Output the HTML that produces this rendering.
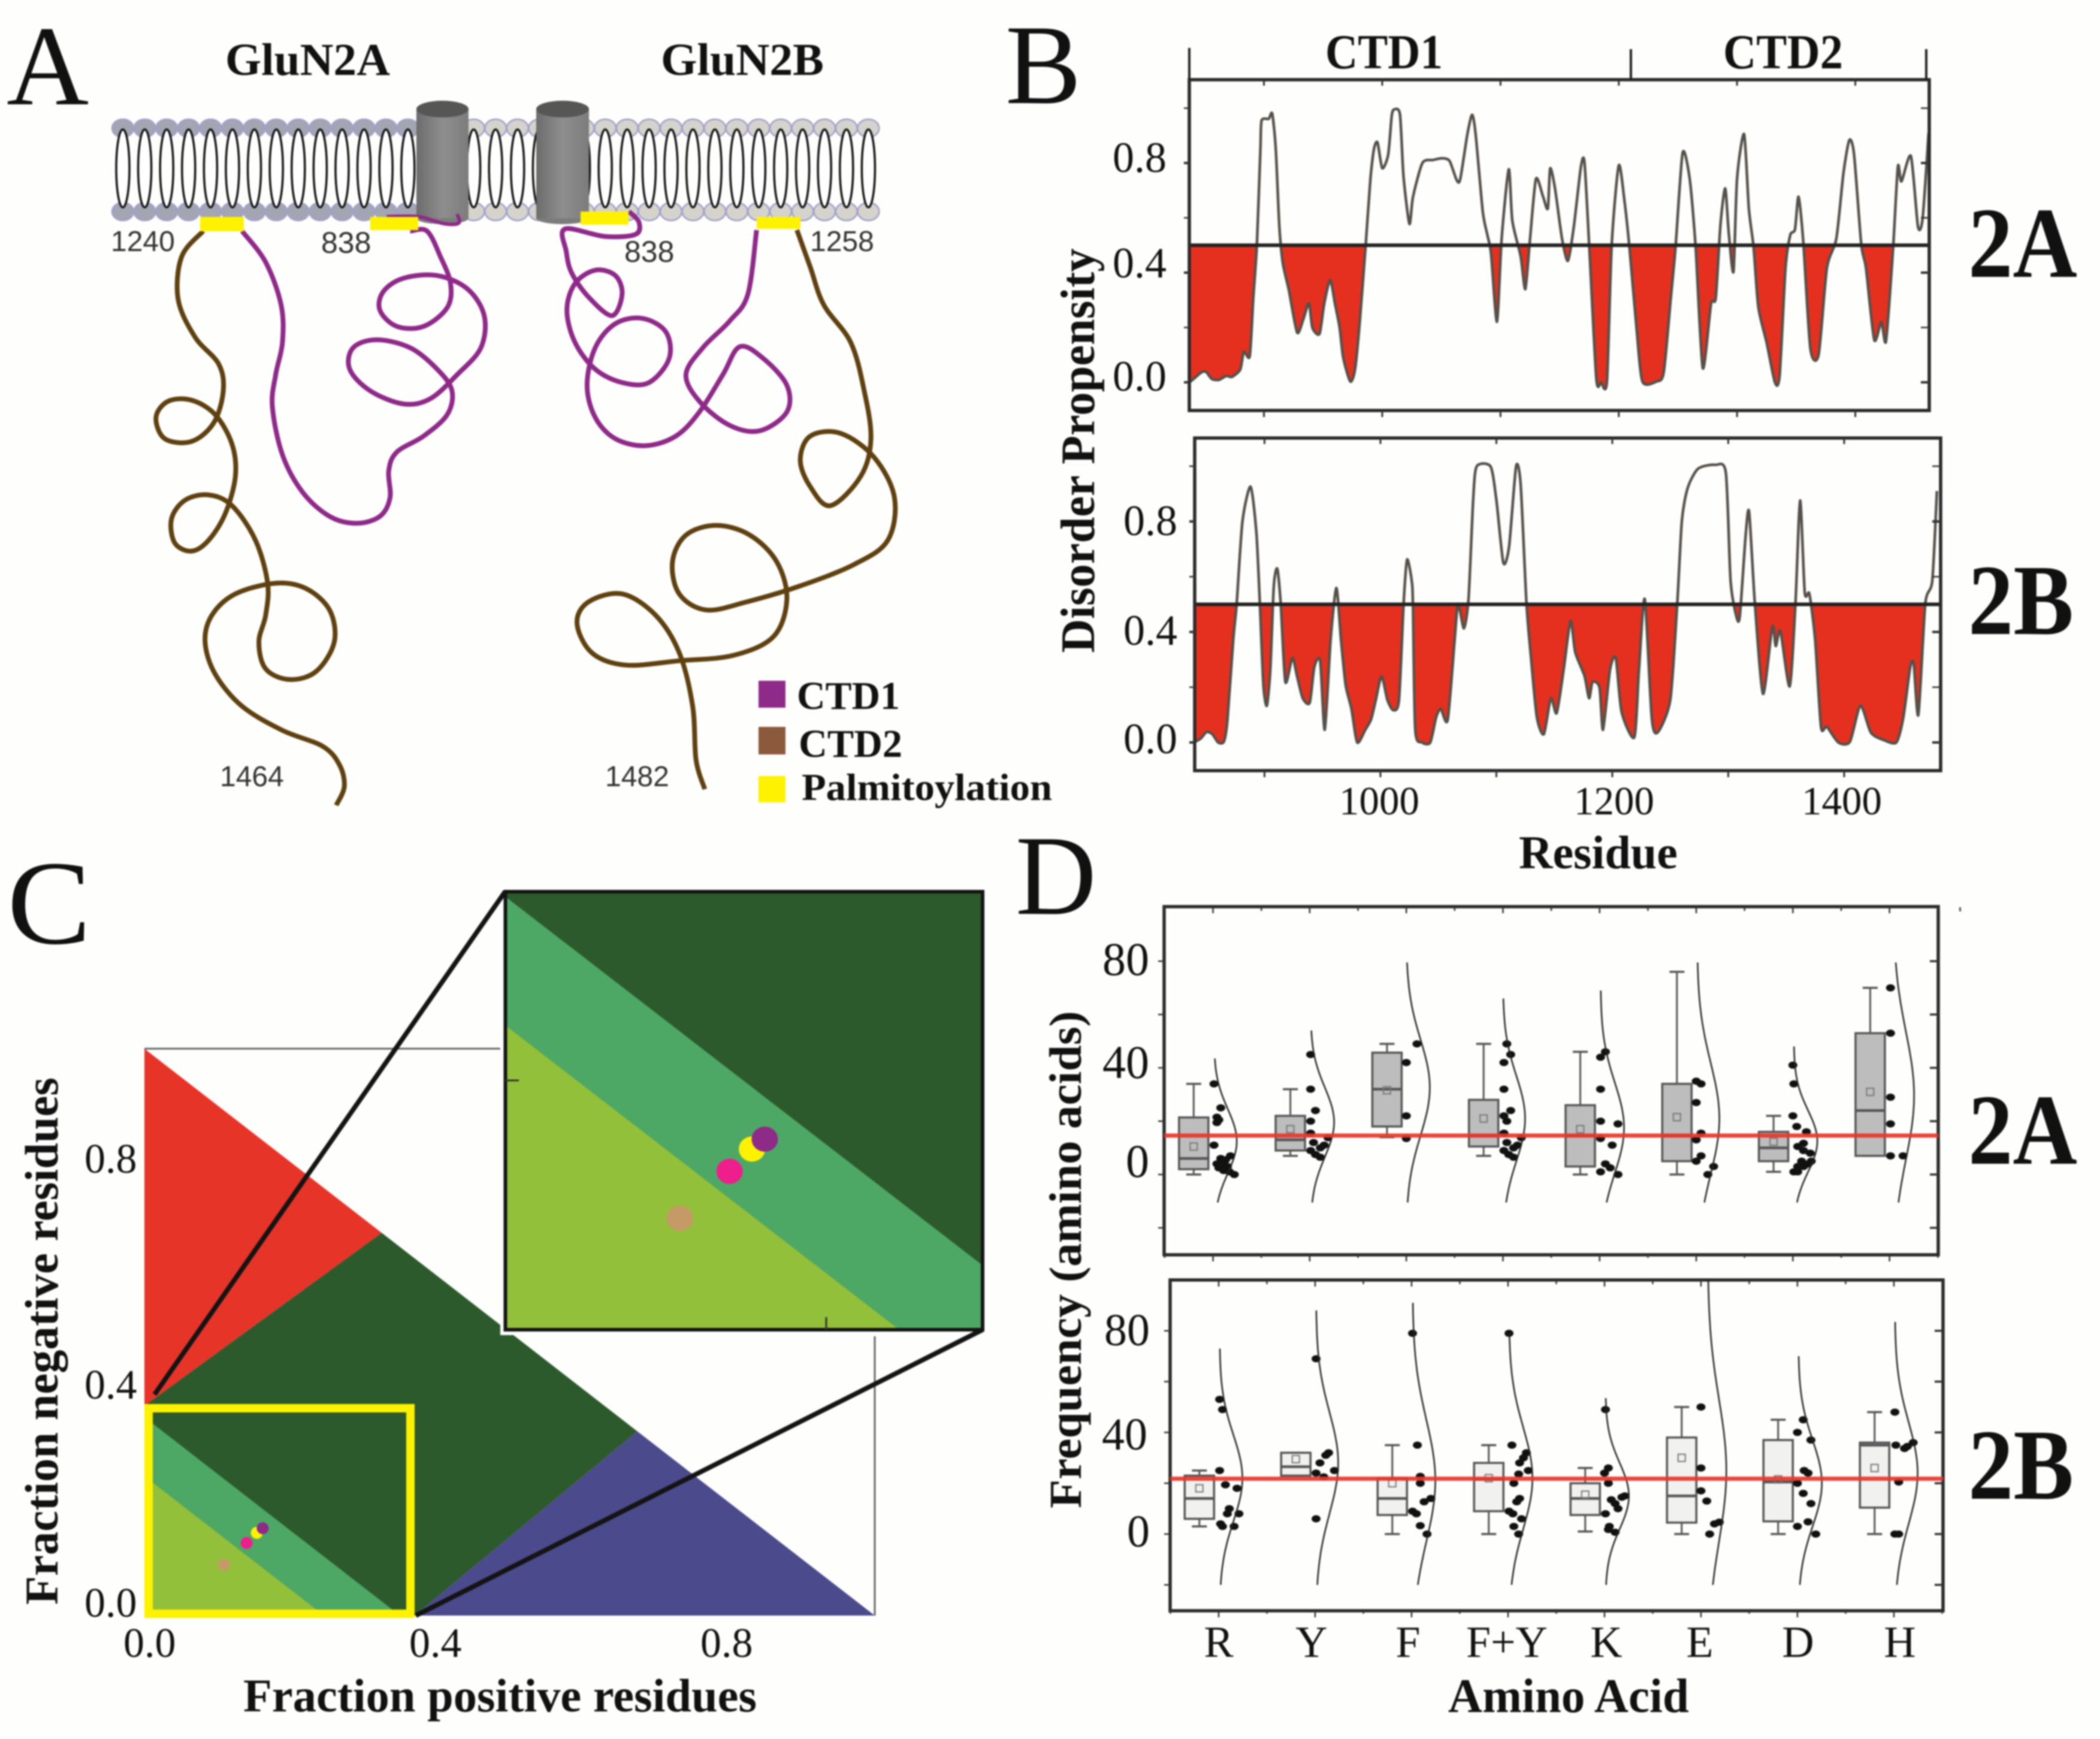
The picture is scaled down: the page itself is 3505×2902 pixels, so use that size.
<!DOCTYPE html>
<html lang="en">
<head>
<meta charset="utf-8">
<title>GluN2A and GluN2B C-terminal domain disorder analysis</title>
<style>
html,body{margin:0;padding:0;background:#fefefd;}
svg{display:block;filter:blur(1.3px);}
text{font-family:"Liberation Serif",serif;fill:#111;}
.sans{font-family:"Liberation Sans",sans-serif;fill:#333;}
.b{font-weight:bold;}
</style>
</head>
<body>
<svg id="root" xmlns="http://www.w3.org/2000/svg" width="3505" height="2902" viewBox="0 0 3505 2902">
<defs>
<linearGradient id="cyl" x1="0" x2="1" y1="0" y2="0"><stop offset="0" stop-color="#6c6c6c"/><stop offset=".5" stop-color="#8e8e8e"/><stop offset="1" stop-color="#7c7c7c"/></linearGradient>
<clipPath id="clip-inset"><rect x="843" y="1488" width="797" height="731"/></clipPath>
</defs>
<rect width="3505" height="2902" fill="#fefefd"/>

<!-- Panel A -->
<g id="panel-a">
  <g id="membrane"></g>
  <g id="cylinders">
    <g>
      <ellipse cx="738.5" cy="364" rx="43.5" ry="10" fill="#7c7c7c"/>
      <rect x="695" y="182" width="87" height="182" fill="url(#cyl)"/>
      <ellipse cx="738.5" cy="182" rx="43.5" ry="14" fill="#565656"/>
    </g>
    <g>
      <ellipse cx="939" cy="364" rx="44" ry="10" fill="#7c7c7c"/>
      <rect x="895" y="182" width="88" height="182" fill="url(#cyl)"/>
      <ellipse cx="939" cy="182" rx="44" ry="14" fill="#565656"/>
    </g>
  </g>
  <g id="tails"></g>
  <rect x="334" y="362" width="73" height="24" fill="#fff200"/>
  <rect x="618" y="362" width="80" height="22" fill="#fff200"/>
  <rect x="969" y="353" width="80" height="22" fill="#fff200"/>
  <rect x="1263" y="362" width="73" height="20" fill="#fff200"/>
  <text x="11" y="174" font-size="190">A</text>
  <text class="b" x="376" y="125" font-size="76" textLength="275" lengthAdjust="spacingAndGlyphs">GluN2A</text>
  <text class="b" x="1103" y="125" font-size="76" textLength="272" lengthAdjust="spacingAndGlyphs">GluN2B</text>
  <text class="sans" x="185" y="419" font-size="48">1240</text>
  <text class="sans" x="536" y="422" font-size="50">838</text>
  <text class="sans" x="1042" y="437" font-size="50">838</text>
  <text class="sans" x="1352" y="419" font-size="48">1258</text>
  <text class="sans" x="367" y="1312" font-size="48">1464</text>
  <text class="sans" x="1010" y="1312" font-size="48">1482</text>
  <rect x="1266" y="1136" width="45" height="45" fill="#8e2a88"/>
  <rect x="1266" y="1213" width="45" height="46" fill="#8b5a3c"/>
  <rect x="1266" y="1295" width="45" height="44" fill="#fff200"/>
  <text class="b" x="1330" y="1183" font-size="66" textLength="172" lengthAdjust="spacingAndGlyphs">CTD1</text>
  <text class="b" x="1333" y="1263" font-size="66" textLength="173" lengthAdjust="spacingAndGlyphs">CTD2</text>
  <text class="b" x="1338" y="1335" font-size="64" textLength="418" lengthAdjust="spacingAndGlyphs">Palmitoylation</text>
</g>

<!-- Panel B -->
<g id="panel-b">
  <g id="plot-b-2a"></g>
  <g id="plot-b-2b"></g>
  <text x="1678" y="172" font-size="190">B</text>
  <line x1="1985" x2="1985" y1="80" y2="133" stroke="#222" stroke-width="4"/>
  <line x1="2722" x2="2722" y1="82" y2="133" stroke="#222" stroke-width="4"/>
  <line x1="3215" x2="3215" y1="82" y2="133" stroke="#222" stroke-width="4"/>
  <text class="b" x="2212" y="114" font-size="82" textLength="196" lengthAdjust="spacingAndGlyphs">CTD1</text>
  <text class="b" x="2876" y="114" font-size="82" textLength="200" lengthAdjust="spacingAndGlyphs">CTD2</text>
  <text x="1947" y="287" font-size="72" text-anchor="end">0.8</text>
  <text x="1947" y="463" font-size="72" text-anchor="end">0.4</text>
  <text x="1947" y="652" font-size="72" text-anchor="end">0.0</text>
  <text x="1965" y="893" font-size="72" text-anchor="end">0.8</text>
  <text x="1965" y="1076" font-size="72" text-anchor="end">0.4</text>
  <text x="1965" y="1257" font-size="72" text-anchor="end">0.0</text>
  <text x="2235" y="1359" font-size="67">1000</text>
  <text x="2627" y="1359" font-size="67">1200</text>
  <text x="3007" y="1359" font-size="67">1400</text>
  <text class="b" x="2535" y="1449" font-size="78" textLength="265" lengthAdjust="spacingAndGlyphs">Residue</text>
  <text class="b" transform="translate(1826,752) rotate(-90)" text-anchor="middle" font-size="80" textLength="675" lengthAdjust="spacingAndGlyphs">Disorder Propensity</text>
  <text class="b" x="3285" y="462" font-size="168" textLength="182" lengthAdjust="spacingAndGlyphs">2A</text>
  <text class="b" x="3285" y="1058" font-size="168" textLength="176" lengthAdjust="spacingAndGlyphs">2B</text>
</g>

<!-- Panel C -->
<g id="panel-c">
  <g id="plot-c"></g>
  <text x="12" y="1574" font-size="200" textLength="140" lengthAdjust="spacingAndGlyphs">C</text>
  <text x="141" y="1957" font-size="70">0.8</text>
  <text x="141" y="2334" font-size="70">0.4</text>
  <text x="141" y="2698" font-size="70">0.0</text>
  <text x="206" y="2765" font-size="70">0.0</text>
  <text x="683" y="2765" font-size="70">0.4</text>
  <text x="1169" y="2765" font-size="70">0.8</text>
  <text class="b" x="406" y="2856" font-size="78" textLength="857" lengthAdjust="spacingAndGlyphs">Fraction positive residues</text>
  <text class="b" transform="translate(96,2238) rotate(-90)" text-anchor="middle" font-size="78" textLength="880" lengthAdjust="spacingAndGlyphs">Fraction negative residues</text>
</g>

<!-- Panel D -->
<g id="panel-d">
  <g id="plot-d-2a"></g>
  <g id="plot-d-2b"></g>
  <text x="1695" y="1525" font-size="190" textLength="135" lengthAdjust="spacingAndGlyphs">D</text>
  <rect x="3270" y="1514" width="3" height="7" fill="#555"/>
  <text x="1918" y="1627" font-size="78" text-anchor="end">80</text>
  <text x="1918" y="1799" font-size="78" text-anchor="end">40</text>
  <text x="1918" y="1964" font-size="78" text-anchor="end">0</text>
  <text x="1919" y="2245" font-size="76" text-anchor="end">80</text>
  <text x="1915" y="2419" font-size="76" text-anchor="end">40</text>
  <text x="1919" y="2581" font-size="76" text-anchor="end">0</text>
  <text x="2034" y="2765" font-size="74" text-anchor="middle">R</text>
  <text x="2189" y="2765" font-size="74" text-anchor="middle">Y</text>
  <text x="2350" y="2765" font-size="74" text-anchor="middle">F</text>
  <text x="2515" y="2765" font-size="74" text-anchor="middle" textLength="136" lengthAdjust="spacingAndGlyphs">F+Y</text>
  <text x="2681" y="2765" font-size="74" text-anchor="middle">K</text>
  <text x="2837" y="2765" font-size="74" text-anchor="middle">E</text>
  <text x="3001" y="2765" font-size="74" text-anchor="middle">D</text>
  <text x="3171" y="2765" font-size="74" text-anchor="middle">H</text>
  <text class="b" x="2417" y="2857" font-size="80" textLength="402" lengthAdjust="spacingAndGlyphs">Amino Acid</text>
  <text class="b" transform="translate(1804,2102) rotate(-90)" text-anchor="middle" font-size="76" textLength="830" lengthAdjust="spacingAndGlyphs">Frequency (amino acids)</text>
  <text class="b" x="3285" y="1942" font-size="168" textLength="182" lengthAdjust="spacingAndGlyphs">2A</text>
  <text class="b" x="3285" y="2501" font-size="168" textLength="176" lengthAdjust="spacingAndGlyphs">2B</text>
</g>
</svg>

<script>
/* ---------- Panel B data ---------- */
const residues2A = [837,841,847,851,856,862,868,873,880,883,888,891,894,897,898,904,907,910,913,916,921,928,933,938,941,947,951,956,960,964,967,973,977,981,986,990,993,996,1000,1005,1008,1010,1015,1018,1023,1026,1034,1043,1051,1057,1063,1066,1072,1076,1079,1085,1089,1092,1097,1101,1107,1110,1117,1121,1125,1130,1136,1140,1142,1146,1152,1157,1162,1168,1171,1175,1181,1185,1190,1194,1200,1205,1209,1215,1220,1232,1238,1244,1248,1254,1260,1265,1271,1278,1282,1286,1290,1293,1297,1300,1306,1310,1314,1318,1325,1332,1336,1341,1345,1349,1352,1356,1362,1369,1376,1384,1390,1395,1399,1405,1409,1416,1422,1426,1432,1436,1439,1447,1453,1457,1462];
const disorder2A = [0,.014,.036,.038,.012,.009,.023,.02,.047,.112,.096,.308,.5,.852,.955,.961,.98,.852,.568,.433,.337,.182,.226,.288,.199,.177,.288,.373,.288,.199,.09,.003,.047,.22,.5,.742,.851,.875,.781,.83,.971,.995,.977,.752,.578,.676,.8,.811,.817,.807,.737,.742,.905,.976,.905,.623,.536,.47,.221,.526,.777,.59,.46,.34,.525,.742,.677,.634,.78,.71,.525,.443,.568,.786,.802,.5,.014,0,.003,.5,.791,.655,.493,.199,.003,.003,.036,.308,.493,.837,.742,.493,.052,.286,.308,.577,.707,.545,.404,.742,.905,.634,.493,.275,.145,0,.025,.417,.537,.558,.677,.514,.123,.101,.417,.525,.765,.884,.829,.504,.417,.155,.22,.151,.493,.787,.733,.825,.568,.601,.91];
const residues2B = [839,845,850,855,860,865,868,873,876,881,888,893,896,899,902,905,908,911,914,918,924,928,933,939,943,948,952,957,962,966,970,975,980,987,992,996,1001,1006,1011,1016,1020,1023,1027,1028,1030,1036,1043,1048,1052,1058,1064,1067,1072,1076,1080,1083,1095,1100,1106,1111,1117,1121,1126,1130,1135,1141,1147,1152,1158,1164,1168,1176,1180,1183,1189,1192,1198,1203,1208,1219,1223,1228,1234,1239,1250,1256,1260,1265,1274,1289,1298,1302,1307,1310,1315,1318,1323,1330,1338,1341,1345,1353,1358,1362,1366,1370,1375,1380,1385,1395,1405,1414,1423,1434,1445,1451,1457,1460,1464,1470,1476,1480];
const disorder2B = [0,.014,.038,.03,0,.003,.079,.37,.502,.8,.926,.759,.502,.208,.133,.262,.565,.629,.502,.219,.306,.241,.16,.144,.273,.295,.046,.37,.559,.37,.208,.122,0,.046,.084,.154,.239,.154,.117,.154,.502,.662,.586,.502,.046,0,0,.09,.122,.081,.37,.502,.413,.521,.878,.999,.999,.878,.651,.71,.999,.932,.502,.3,.09,.03,.16,.106,.262,.44,.327,.241,.16,.219,.198,.046,.262,.306,.111,.019,.262,.519,.09,.036,.154,.502,.802,.921,.991,1.005,.975,.586,.457,.457,.748,.835,.502,.176,.419,.349,.403,.203,.502,.876,.543,.538,.37,.057,.057,0,.003,.133,.036,.009,0,.09,.273,.284,.1,.502,.586,.91];
const disorderThreshold = 0.5;
const disorderYTicks = [0,.2,.4,.6,.8,1];
const residueTicks = [900,1000,1100,1200,1300,1400];

/* ---------- Panel C data ---------- */
const regionRed = [[0,1],[.325,.675],[0,.37]];
const regionDark = [[0,.37],[.325,.675],[.675,.325],[.37,0],[0,0]];
const regionBlue = [[.675,.325],[1,0],[.37,0]];
const regionMid = [[0,.35],[.35,0],[.246,0],[0,.246]];
const regionLight = [[0,.246],[.246,0],[0,0]];
const pointFractionPositive = [.162,.154,.14,.109];
const pointFractionNegative = [.154,.146,.128,.09];
const pointColors = ['#8e2a88','#fff200','#ee1e8c','#c69a66'];
const pointOrder = [1,0,2,3];

/* ---------- Panel D data ---------- */
const categories = ['R','Y','F','F+Y','K','E','D','H'];
const whiskerHigh2A = [34,32,49,49,46,76,22,70];
const quartile3_2A = [21.4,22,45.7,28,26,34,16,53];
const median2A = [6,13,32,14.5,14.5,14.5,10,24];
const quartile1_2A = [2,9,18,10.5,3,5,5,7];
const whiskerLow2A = [0,7,14,7,0,0,1,7];
const mean2A = [10.5,17,31.6,21,17,21.5,12.3,31];
const points2A = [
 [34,25,21.5,20.5,19.5,11,7,6,5.5,4,3.5,3,2.5,1.5,1,0],
 [45,32,24,20,15.5,13.8,12,11,10,9,7.5,6.5],
 [49,42,22,13.5],
 [49,45,42,32,24,22,20,15.5,13.8,12,11,10,9,7.5,6.5],
 [46,44,32,20,19,13.5,11,4,2.5,1,0],
 [35,34,27,15.5,13,7,5,3,0],
 [41,34,22,18,16,11.7,10.5,9,8,5,5,4,3,3,1,1],
 [70,53,29,19,7,7]
];
const jitter2A = [
 [.01,.08,.04,.06,.04,.01,.18,.08,.13,.04,.09,.15,.06,.11,.17,.22],
 [.01,.01,.06,.01,.01,.19,.04,.15,.11,.01,.06,.11],
 [.11,0,0,0],
 [.04,.08,.01,.01,.08,.01,.04,.01,.19,.04,.15,.11,.01,.06,.11],
 [.06,.01,.01,.01,.19,.01,.13,.06,.11,.01,.19],
 [0,.05,0,.05,0,.05,0,.18,.12],
 [0,.01,0,.04,.14,.11,.05,.11,.18,.19,.09,.16,.05,.11,.01,.05],
 [.01,.01,.01,.01,.01,.14]
];
const fitMean2A = [12.5,19.6,32.6,21,17.5,21,12.5,29.6];
const fitSd2A = [12,13,18,16,17,21,11.5,24];
const fitPeak2A = [.236,.243,.243,.229,.243,.229,.243,.214];
const fitBase2A = [.01,.01,0,0,.01,.01,.01,.04];
const fitTop2A = [43.7,55,80,66.5,69.5,80,49,80];
const fitBottom2A = [-10.5,-10.5,-10.5,-10.5,-10.5,-10.5,-10.5,-10.5];
const reference2A = 14.6;

const whiskerHigh2B = [25,32,35,35,26,50,45,48];
const quartile3_2B = [23,32,22,28,20,38,37,36];
const median2B = [14,26.5,14,21.5,14,15,20.5,35];
const quartile1_2B = [6,23,7.5,9,7.5,4.5,5,10.4];
const whiskerLow2B = [3,23,0,0,1,0,0,0];
const mean2B = [18,29.5,20,22,15.5,30,21.5,26];
const points2B = [
 [53,49,25,19.4,18,10,8,8,4,3,3],
 [69,32,31,28,25,24,22.5,6],
 [79,35,22.7,20,14,12.7,9,8,3.3,0],
 [79,35,32,30,28,25,23.6,20,14,12.7,9,8,6,3,0],
 [49,26,24,20,15,14.5,13.5,12,10,8,3,1.8,.7],
 [50,26,17,13,4.7,4,0],
 [45,40,37,25,24,20,16,12,4.8,3,0],
 [48,35,36,34.5,33.7,20.5,0,0]
];
const jitter2B = [
 [.01,.04,.01,.07,.19,.11,.09,.21,.02,.04,.16],
 [.01,.14,.11,.05,.2,.01,.09,.01],
 [.01,.06,.09,.09,.2,.13,.01,.05,.09,.16],
 [.01,.04,.19,.16,.12,.21,.11,.06,.12,.09,.01,.05,.14,.06,.11],
 [.01,.04,0,.04,.21,.18,.07,.11,.14,.01,.05,.04,.11],
 [0,0,0,.06,.19,.14,.09],
 [.06,0,.14,.07,.11,0,.06,.14,.11,0,.19],
 [.01,.02,.2,.14,.11,.05,.01,.05]
];
const fitMean2B = [22,28,21,22,15,25,20,24];
const fitSd2B = [17,20,24,20,13,28,17,20];
const fitPeak2B = [.236,.229,.236,.243,.243,.193,.243,.236];
const fitBase2B = [.01,.01,.01,.01,.01,.07,.01,.01];
const fitTop2B = [73.9,88,91.8,79,54,100,70.7,83.9];
const fitBottom2B = [-20,-20,-20,-20,-20,-20,-20,-20];
const reference2B = 21.8;
const frequencyTicks = [-20,0,20,40,60,80];

/* ---------- Panel A illustration outlines (diagram space) ---------- */
const tailBrownA = [[302,432],[270,480],[265,560],[290,630],[325,680],[332,730],[318,790],[285,825],[245,820],[232,780],[250,750],[285,748],[320,775],[345,830],[350,890],[335,960],[310,1010],[285,1030],[260,1015],[255,970],[275,935],[310,925],[345,945],[380,1010],[398,1090],[395,1150],[385,1200],[395,1250],[430,1270],[470,1255],[497,1200],[490,1140],[455,1100],[410,1090],[350,1110],[315,1150],[305,1200],[320,1260],[360,1320],[420,1365],[480,1395],[505,1430],[512,1470],[500,1505]];
const tailPurpleA = [[360,432],[395,490],[418,570],[420,640],[410,700],[405,760],[420,850],[450,920],[490,965],[530,978],[565,965],[580,930],[578,880],[590,845],[630,815],[665,775],[672,730],[650,690],[610,650],[560,635],[525,650],[520,690],[550,730],[600,755],[640,745],[680,700],[715,650],[720,590],[695,540],[650,515],[600,520],[570,545],[565,580],[590,610],[630,610],[665,575],[670,530],[655,480],[635,432],[610,432]];
const hookPurpleA = [[575,405],[622,405],[660,418],[682,417],[680,400]];
const tailPurpleB = [[935,395],[950,415],[945,438],[900,442],[840,428],[842,470],[850,510],[875,555],[910,590],[925,550],[915,515],[885,505],[855,530],[843,580],[855,640],[885,690],[925,715],[965,715],[995,670],[990,620],[955,595],[915,605],[885,650],[873,720],[885,780],[915,820],[960,833],[1005,815],[1040,770],[1075,700],[1100,648],[1135,670],[1170,720],[1170,770],[1130,805],[1085,795],[1040,750],[1020,700],[1045,650],[1085,600],[1112,550],[1125,430]];
const tailBrownB = [[1185,430],[1205,500],[1225,570],[1265,640],[1285,730],[1295,820],[1280,890],[1235,945],[1205,910],[1190,860],[1205,815],[1250,810],[1300,855],[1330,930],[1320,1010],[1270,1055],[1190,1095],[1110,1125],[1050,1140],[1010,1110],[1000,1050],[1020,1000],[1065,982],[1115,1000],[1155,1050],[1170,1120],[1150,1190],[1090,1225],[1010,1235],[930,1243],[880,1220],[858,1165],[875,1125],[925,1110],[975,1150],[1010,1220],[1030,1320],[1035,1420],[1048,1475]];

const NS = 'http://www.w3.org/2000/svg';
function mk(tag, attrs, parent){
  const e = document.createElementNS(NS, tag);
  for (const k in attrs) e.setAttribute(k, attrs[k]);
  parent.appendChild(e);
  return e;
}
function byId(id){ return document.getElementById(id); }
function polyPoints(list, sx, sy){ return list.map(p => sx(p[0]).toFixed(1) + ',' + sy(p[1]).toFixed(1)).join(' '); }
/* Catmull-Rom segments through screen points; k controls how round the corners are */
function curveSegments(P, k){
  let d = '';
  for (let i = 0; i < P.length-1; i++){
    const a = P[Math.max(0,i-1)], b = P[i], c = P[i+1], e = P[Math.min(P.length-1,i+2)];
    d += ' C' + (b[0]+(c[0]-a[0])*k).toFixed(1) + ' ' + (b[1]+(c[1]-a[1])*k).toFixed(1) + ' ' +
         (c[0]-(e[0]-b[0])*k).toFixed(1) + ' ' + (c[1]-(e[1]-b[1])*k).toFixed(1) + ' ' +
         c[0].toFixed(1) + ' ' + c[1].toFixed(1);
  }
  return d;
}

/* ---------- Panel A ---------- */
(function(){
  const mem = byId('membrane');
  const n = 35, x0 = 205, step = 36.6;
  for (let i = 0; i < n; i++){
    const x = x0 + i * step;
    const head = x < 786 ? '#a3a5b2' : '#d5d3cc';
    const top = mk('ellipse', {cx:x, cy:214, rx:18, ry:15, fill:head, stroke:'#a0a0cc', 'stroke-width':2.5}, mem);
    
    
    const bot = mk('ellipse', {cx:x, cy:353, rx:18, ry:15, fill:head, stroke:'#a0a0cc', 'stroke-width':2.5}, mem);
    
    
  }
  for (let i = 0; i < n; i++){
    const x = x0 + i * step;
    const tail = mk('ellipse', {cx:x, cy:281, rx:11, ry:65, fill:'#fff', stroke:'#111', 'stroke-width':3.5}, mem);
    
    
  }
  const kx = 1760/1568, ky = 1400/1568;
  function spline(pts){
    const P = pts.map(p => [p[0]*kx, p[1]*ky]);
    return 'M' + P[0][0].toFixed(1) + ' ' + P[0][1].toFixed(1) + curveSegments(P, 1/6);
  }
  const tails = byId('tails');
  const t1 = mk('path', {d:spline(tailBrownA), fill:'none', stroke:'#5f4110', 'stroke-width':8}, tails);
  
  
  const t2 = mk('path', {d:spline(tailPurpleA), fill:'none', stroke:'#8e2a88', 'stroke-width':8}, tails);
  
  
  const t3 = mk('path', {d:spline(hookPurpleA), fill:'none', stroke:'#8e2a88', 'stroke-width':6}, tails);
  
  
  const t4 = mk('path', {d:spline(tailPurpleB), fill:'none', stroke:'#8e2a88', 'stroke-width':8}, tails);
  
  
  const t5 = mk('path', {d:spline(tailBrownB), fill:'none', stroke:'#5f4110', 'stroke-width':8}, tails);
  
  
})();

/* ---------- Panel B ---------- */
function drawDisorder(g, residues, values, sx, sy, f){
  const baseY = sy(disorderThreshold);
  const clipId = g.id + '-clip';
  const defs = mk('clipPath', {id:clipId}, g);
  mk('rect', {x:f.l, y:baseY, width:f.r-f.l, height:f.b-baseY}, defs);
  const P = residues.map((r,i) => [sx(r), sy(values[i])]);
  const segs = curveSegments(P, 0.12);
  const first = P[0], last = P[P.length-1];
  const area = mk('path', {d:'M' + first[0].toFixed(1) + ' ' + baseY.toFixed(1) + ' L' + first[0].toFixed(1) + ' ' + first[1].toFixed(1) + segs + ' L' + last[0].toFixed(1) + ' ' + baseY.toFixed(1) + ' Z', fill:'#e5301f', 'clip-path':'url(#' + clipId + ')'}, g);
  
  
  const curve = mk('path', {d:'M' + first[0].toFixed(1) + ' ' + first[1].toFixed(1) + segs, fill:'none', stroke:'#555049', 'stroke-width':4.5, 'stroke-linejoin':'round'}, g);
  
  
  const thr = mk('line', {x1:f.l, x2:f.r, y1:baseY, y2:baseY, stroke:'#222', 'stroke-width':6}, g);
  
  
  const frame = mk('rect', {x:f.l, y:f.t, width:f.r-f.l, height:f.b-f.t, fill:'none', stroke:'#2a2a2a', 'stroke-width':5.5}, g);
  
  
  residueTicks.forEach(r => {
    const a = mk('line', {x1:sx(r), x2:sx(r), y1:f.t, y2:f.t+10, stroke:'#333', 'stroke-width':3}, g);
    
    
    const b = mk('line', {x1:sx(r), x2:sx(r), y1:f.b, y2:f.b+11, stroke:'#333', 'stroke-width':3}, g);
    
    
  });
  disorderYTicks.forEach((v,i) => {
    const w = i % 2 === 0 ? 4 : 2.5;
    const a = mk('line', {x1:f.l-9, x2:f.l, y1:sy(v), y2:sy(v), stroke:'#333', 'stroke-width':w}, g);
    
    
    const b = mk('line', {x1:f.r-14, x2:f.r, y1:sy(v), y2:sy(v), stroke:'#333', 'stroke-width':w}, g);
    
    
  });
}
const xResidue2A = r => 2307 + (r - 1000) * 1.974;
const yDisorder2A = v => 638 - 457.5 * v;
const xResidue2B = r => 2304 + (r - 1000) * 1.935;
const yDisorder2B = v => 1239 - 461 * v;
drawDisorder(byId('plot-b-2a'), residues2A, disorder2A, xResidue2A, yDisorder2A, {l:1985,r:3220,t:133,b:685});
drawDisorder(byId('plot-b-2b'), residues2B, disorder2B, xResidue2B, yDisorder2B, {l:1994,r:3239,t:731,b:1286});

/* ---------- Panel C ---------- */
(function(){
  const g = byId('plot-c');
  const sx = v => 241 + 1219 * v;
  const sy = v => 2696 - 946 * v;
  const ix = v => 843.5 + 796.5 * v / 0.298;
  const iy = v => 2219 - 731 * v / 0.354;

  const r1 = mk('polygon', {points:polyPoints(regionRed,sx,sy), fill:'#e73429'}, g);
  
  
  const r2 = mk('polygon', {points:polyPoints(regionDark,sx,sy), fill:'#2d5a2c'}, g);
  
  
  const r3 = mk('polygon', {points:polyPoints(regionBlue,sx,sy), fill:'#4b4a8c'}, g);
  
  
  const r4 = mk('polygon', {points:polyPoints(regionMid,sx,sy), fill:'#4da866'}, g);
  
  
  const r5 = mk('polygon', {points:polyPoints(regionLight,sx,sy), fill:'#93c03a'}, g);
  
  

  pointOrder.forEach(i => {
    const d = mk('ellipse', {cx:sx(pointFractionPositive[i]), cy:sy(pointFractionNegative[i]), rx:10, ry:10, fill:pointColors[i]}, g);
    
    
  });

  const zoomBox = mk('rect', {x:248, y:2350, width:437, height:343, fill:'none', stroke:'#fff200', 'stroke-width':14}, g);
  
  

  const ft = mk('line', {x1:241, x2:836, y1:1750, y2:1750, stroke:'#666', 'stroke-width':3}, g);
  
  
  const fr = mk('line', {x1:1460, x2:1460, y1:2230, y2:2696, stroke:'#666', 'stroke-width':3}, g);
  
  

  const halo = mk('rect', {x:835, y:1480, width:812, height:748, fill:'#fff'}, g);
  
  

  const inset = mk('g', {'clip-path':'url(#clip-inset)'}, g);
  
  
  const bg = mk('rect', {x:843, y:1488, width:797, height:731, fill:'#2d5a2c'}, inset);
  
  
  const im = mk('polygon', {points:polyPoints(regionMid,ix,iy), fill:'#4da866'}, inset);
  
  
  const il = mk('polygon', {points:polyPoints(regionLight,ix,iy), fill:'#93c03a'}, inset);
  
  
  pointOrder.forEach(i => {
    const d = mk('ellipse', {cx:ix(pointFractionPositive[i]), cy:iy(pointFractionNegative[i]), rx:22, ry:21, fill:pointColors[i]}, inset);
    
    
  });
  const ifr = mk('rect', {x:843.5, y:1488, width:796.5, height:731, fill:'none', stroke:'#141414', 'stroke-width':6}, g);
  
  
  const tk1 = mk('line', {x1:843, x2:866, y1:1803, y2:1803, stroke:'#333', 'stroke-width':3}, g);
  
  
  const tk2 = mk('line', {x1:1379, x2:1379, y1:2198, y2:2219, stroke:'#333', 'stroke-width':3}, g);
  
  

  const l1 = mk('line', {x1:258, y1:2327, x2:843, y2:1488, stroke:'#141414', 'stroke-width':8}, g);
  
  
  const l2 = mk('line', {x1:694, y1:2696, x2:1640, y2:2219, stroke:'#141414', 'stroke-width':8}, g);
  
  
})();

/* ---------- Panel D ---------- */
function drawBoxes(g, o){
  const sx = o.sx, sy = o.sy, f = o.frame;
  const frame = mk('rect', {x:f.l, y:f.t, width:f.r-f.l, height:f.b-f.t, fill:'none', stroke:'#2a2a2a', 'stroke-width':5.5}, g);
  
  
  for (let c = -0.5; c <= 7.5; c += 0.5){
    const major = Number.isInteger(c);
    const a = mk('line', {x1:sx(c), x2:sx(c), y1:f.t, y2:f.t + (major ? 11 : 7), stroke:'#333', 'stroke-width':2.5}, g);
    
    
    const b = mk('line', {x1:sx(c), x2:sx(c), y1:f.b, y2:f.b + (major ? 11 : 5), stroke:'#333', 'stroke-width':2.5}, g);
    
    
  }
  frequencyTicks.forEach(v => {
    const a = mk('line', {x1:f.l-10, x2:f.l, y1:sy(v), y2:sy(v), stroke:'#333', 'stroke-width':2.5}, g);
    
    
    const b = mk('line', {x1:f.r-14, x2:f.r, y1:sy(v), y2:sy(v), stroke:'#333', 'stroke-width':3.5}, g);
    
    
  });
  categories.forEach((cat, i) => {
    const cx = sx(i - 0.2), hw = 24.5, cap = 12.5;
    const whisk = mk('line', {x1:cx, x2:cx, y1:sy(o.high[i]), y2:sy(o.low[i]), stroke:'#555', 'stroke-width':3}, g);
    
    
    const capTop = mk('line', {x1:cx-cap, x2:cx+cap, y1:sy(o.high[i]), y2:sy(o.high[i]), stroke:'#555', 'stroke-width':3.5}, g);
    
    
    const capLow = mk('line', {x1:cx-cap, x2:cx+cap, y1:sy(o.low[i]), y2:sy(o.low[i]), stroke:'#555', 'stroke-width':3.5}, g);
    
    
    const box = mk('rect', {x:cx-hw, y:sy(o.q3[i]), width:hw*2, height:sy(o.q1[i])-sy(o.q3[i]), fill:o.boxFill, stroke:'#555', 'stroke-width':3.5}, g);
    
    
    const med = mk('line', {x1:cx-hw, x2:cx+hw, y1:sy(o.median[i]), y2:sy(o.median[i]), stroke:'#555', 'stroke-width':4.5}, g);
    
    
    const mean = mk('rect', {x:cx-6, y:sy(o.mean[i])-6, width:12, height:12, fill:'none', stroke:'#777', 'stroke-width':2}, g);
    
    
    o.points[i].forEach((v, k) => {
      const p = mk('ellipse', {cx:sx(i + o.jitter[i][k]), cy:sy(v), rx:7.5, ry:6, fill:'#111'}, g);
      
      
    });
    let d = '';
    for (let v = o.fitBottom[i]; v <= o.fitTop[i] + 0.001; v += 1.5){
      const t = (v - o.fitMean[i]) / o.fitSd[i];
      const x = sx(i + o.fitBase[i] + o.fitPeak[i] * Math.exp(-0.5 * t * t));
      d += (d ? ' L' : 'M') + x.toFixed(1) + ' ' + sy(v).toFixed(1);
    }
    const fit = mk('path', {d:d, fill:'none', stroke:'#222', 'stroke-width':2.5}, g);
    
    
  });
  const ref = mk('line', {x1:f.l, x2:f.r, y1:sy(o.reference), y2:sy(o.reference), stroke:'#e8382c', 'stroke-width':7, opacity:.92}, g);
  
  
}
const xCategory2A = c => 2024.6 + 161.3 * c;
const yFrequency2A = v => 1960 - 4.45 * v;
const xCategory2B = c => 2034 + 161 * c;
const yFrequency2B = v => 2560 - 4.24 * v;
drawBoxes(byId('plot-d-2a'), {sx:xCategory2A, sy:yFrequency2A, frame:{l:1943,r:3235,t:1513,b:2094}, boxFill:'#bdbdbd',
  high:whiskerHigh2A, q3:quartile3_2A, median:median2A, q1:quartile1_2A, low:whiskerLow2A, mean:mean2A,
  points:points2A, jitter:jitter2A, fitMean:fitMean2A, fitSd:fitSd2A, fitPeak:fitPeak2A, fitBase:fitBase2A, fitTop:fitTop2A, fitBottom:fitBottom2A, reference:reference2A});
drawBoxes(byId('plot-d-2b'), {sx:xCategory2B, sy:yFrequency2B, frame:{l:1953,r:3243,t:2136,b:2688}, boxFill:'#f1f1ef',
  high:whiskerHigh2B, q3:quartile3_2B, median:median2B, q1:quartile1_2B, low:whiskerLow2B, mean:mean2B,
  points:points2B, jitter:jitter2B, fitMean:fitMean2B, fitSd:fitSd2B, fitPeak:fitPeak2B, fitBase:fitBase2B, fitTop:fitTop2B, fitBottom:fitBottom2B, reference:reference2B});
</script>
</body>
</html>
